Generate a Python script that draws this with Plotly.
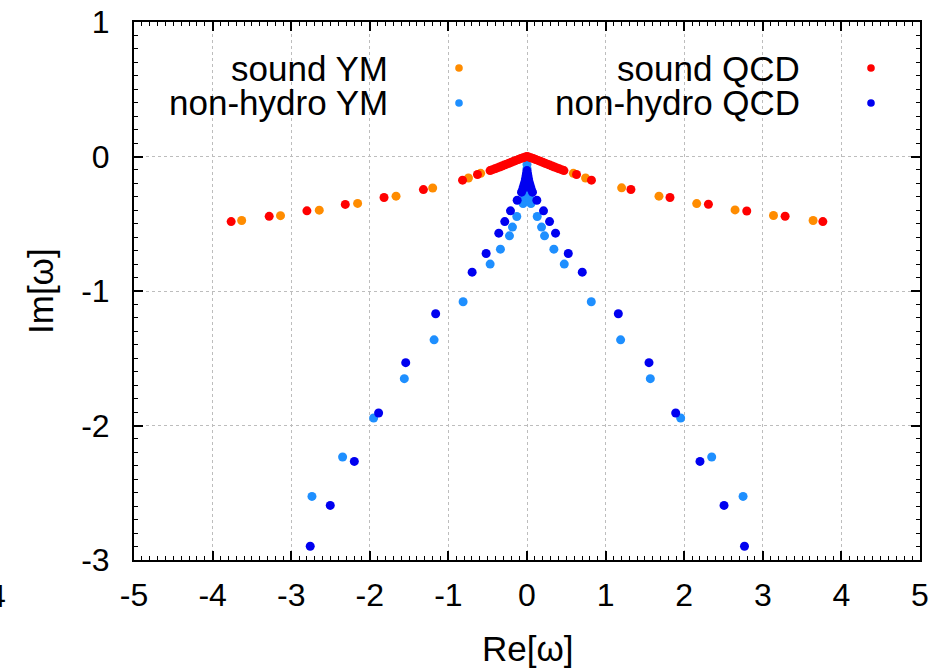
import plotly.graph_objects as go

# ---------------- data ----------------
sound_ym_re = [-3.63, -3.136, -2.643, -2.155, -1.666, -1.200, -0.745, -0.59,
               0.59, 0.745, 1.204, 1.679, 2.159, 2.647, 3.136, 3.64]
sound_ym_im = [-0.476, -0.440, -0.399, -0.349, -0.295, -0.234, -0.160, -0.125,
               -0.125, -0.160, -0.233, -0.295, -0.350, -0.397, -0.439, -0.476]

sound_qcd_re = [-3.764, -3.280, -2.800, -2.312, -1.819, -1.318, -0.82, -0.63,
                -0.47, -0.44, -0.41, -0.38, -0.35, -0.32, -0.29, -0.26, -0.23, -0.20,
                -0.17, -0.14, -0.11, -0.08, -0.05, -0.02, 0.0,
                0.02, 0.05, 0.08, 0.11, 0.14, 0.17, 0.20, 0.23, 0.26, 0.29, 0.32,
                0.35, 0.38, 0.41, 0.44, 0.47,
                0.63, 0.82, 1.322, 1.819, 2.308, 2.796, 3.284, 3.764]
sound_qcd_im = [-0.484, -0.445, -0.404, -0.356, -0.305, -0.246, -0.176, -0.134,
                -0.105, -0.098, -0.092, -0.085, -0.078, -0.071, -0.064, -0.057, -0.050, -0.043,
                -0.036, -0.029, -0.022, -0.015, -0.009, -0.003, 0.0,
                -0.003, -0.009, -0.015, -0.022, -0.029, -0.036, -0.043, -0.050, -0.057, -0.064, -0.071,
                -0.078, -0.085, -0.092, -0.098, -0.105,
                -0.134, -0.176, -0.245, -0.305, -0.355, -0.405, -0.444, -0.484]

nonhydro_ym_re = [-2.736, -2.346, -1.951, -1.561, -1.182, -0.813, -0.469, -0.338,
                  -0.223, -0.185, -0.130, -0.05, -0.04, -0.03, -0.02, -0.01,
                  0.0, 0.0, 0.0, 0.0, 0.0, 0.0,
                  0.01, 0.02, 0.03, 0.04, 0.05, 0.130, 0.185, 0.223,
                  0.342, 0.474, 0.818, 1.191, 1.569, 1.955, 2.350, 2.749]
nonhydro_ym_im = [-2.527, -2.234, -1.944, -1.652, -1.363, -1.080, -0.800, -0.689,
                  -0.590, -0.525, -0.446, -0.350, -0.330, -0.300, -0.270, -0.240,
                  -0.06, -0.09, -0.13, -0.17, -0.21, -0.30,
                  -0.240, -0.270, -0.300, -0.330, -0.350, -0.446, -0.525, -0.590,
                  -0.689, -0.800, -1.080, -1.363, -1.652, -1.944, -2.234, -2.527]

nonhydro_qcd_re = [-2.758, -2.503, -2.197, -1.888, -1.543, -1.162, -0.698, -0.520,
                   -0.359, -0.283, -0.210, -0.125, -0.07, -0.055, -0.045, -0.035,
                   -0.025, -0.018, -0.012, -0.006, 0.0, 0.0, 0.0,
                   0.006, 0.012, 0.018, 0.025, 0.035, 0.045, 0.055, 0.07,
                   0.125, 0.210, 0.287, 0.363, 0.525, 0.703, 1.162, 1.552, 1.892,
                   2.201, 2.507, 2.767]
nonhydro_qcd_im = [-2.898, -2.594, -2.267, -1.907, -1.533, -1.169, -0.860, -0.721,
                   -0.570, -0.484, -0.404, -0.325, -0.265, -0.245, -0.225, -0.205,
                   -0.185, -0.165, -0.145, -0.125, -0.105, -0.16, -0.22,
                   -0.125, -0.145, -0.165, -0.185, -0.205, -0.225, -0.245, -0.265,
                   -0.325, -0.404, -0.484, -0.570, -0.721, -0.860, -1.169, -1.533, -1.907,
                   -2.267, -2.594, -2.898]

x_ticks = [-5, -4, -3, -2, -1, 0, 1, 2, 3, 4, 5]
x_tick_labels = ["-5", "-4", "-3", "-2", "-1", "0", "1", "2", "3", "4", "5"]
y_ticks = [-3, -2, -1, 0, 1]
y_tick_labels = ["-3", "-2", "-1", "0", "1"]

series_names = ["sound YM", "non-hydro YM", "sound QCD", "non-hydro QCD"]
series_colors = ["#ff8c00", "#1e8fff", "#ff0000", "#0000f0"]

# ---------------- figure ----------------
FONT = "Liberation Sans, Arial, sans-serif"
W, H = 943, 672
ML, MR, MT, MB = 134, 23, 22, 112
PW, PH = W - ML - MR, H - MT - MB

def px_x(p):
    return (p - ML) / PW

def px_y(p):
    return (H - MB - p) / PH

fig = go.Figure()
data = [(sound_ym_re, sound_ym_im), (nonhydro_ym_re, nonhydro_ym_im),
        (sound_qcd_re, sound_qcd_im), (nonhydro_qcd_re, nonhydro_qcd_im)]
for (xs, ys), name, col in zip(data, series_names, series_colors):
    fig.add_trace(go.Scatter(x=xs, y=ys, mode="markers", name=name,
                             marker=dict(color=col, size=9, line=dict(width=0)),
                             showlegend=False, cliponaxis=True))

axis_common = dict(
    showline=True, linecolor="black", linewidth=2, mirror="allticks",
    ticks="inside", ticklen=9, tickwidth=1.5, tickcolor="black",
    showgrid=True, gridcolor="#bdbdbd", gridwidth=1, griddash="dot",
    zeroline=False, automargin=False,
    tickfont=dict(family=FONT, size=32, color="black"),
    minor=dict(ticks="inside", ticklen=4, tickwidth=1, tickcolor="black", dtick=0.1, showgrid=False),
)
fig.update_xaxes(range=[-5, 5], tickvals=x_ticks, ticktext=x_tick_labels,
                 ticklabelstandoff=6, **axis_common)
fig.update_yaxes(range=[-3, 1], tickvals=y_ticks, ticktext=y_tick_labels,
                 ticklabelstandoff=16, **axis_common)

annotations = []
# legend entries (gnuplot-style: right-aligned text, sample dot to the right)
legend_pos = [(390, 68, 459), (390, 103, 459), (802, 68, 871), (802, 103, 871)]
shapes = []
for (tx, ty, mx), name, col in zip(legend_pos, series_names, series_colors):
    annotations.append(dict(text=name, xref="paper", yref="paper", x=px_x(tx), y=px_y(ty),
                            xanchor="right", yanchor="middle", showarrow=False,
                            font=dict(family=FONT, size=35, color="black")))
    r = 3.8
    shapes.append(dict(type="circle", xref="paper", yref="paper",
                       x0=px_x(mx - r), x1=px_x(mx + r), y0=px_y(ty + r), y1=px_y(ty - r),
                       fillcolor=col, line=dict(width=0)))

# axis titles
annotations.append(dict(text="Re[ω]", xref="paper", yref="paper", x=px_x(528), y=px_y(648),
                        xanchor="center", yanchor="middle", showarrow=False,
                        font=dict(family=FONT, size=35, color="black")))
annotations.append(dict(text="Im[ω]", xref="paper", yref="paper", x=px_x(40), y=px_y(291),
                        xanchor="center", yanchor="middle", showarrow=False, textangle=-90,
                        font=dict(family=FONT, size=35, color="black")))
# fragment of neighbouring panel's tick label at the left edge
annotations.append(dict(text="4", xref="paper", yref="paper", x=px_x(8), y=px_y(596),
                        xanchor="right", yanchor="middle", showarrow=False,
                        font=dict(family=FONT, size=32, color="black")))

fig.update_layout(
    width=W, height=H,
    margin=dict(l=ML, r=MR, t=MT, b=MB, autoexpand=False),
    paper_bgcolor="white", plot_bgcolor="white",
    showlegend=False,
    annotations=annotations, shapes=shapes,
    font=dict(family=FONT, color="black"),
)

fig.write_html("out.html")
